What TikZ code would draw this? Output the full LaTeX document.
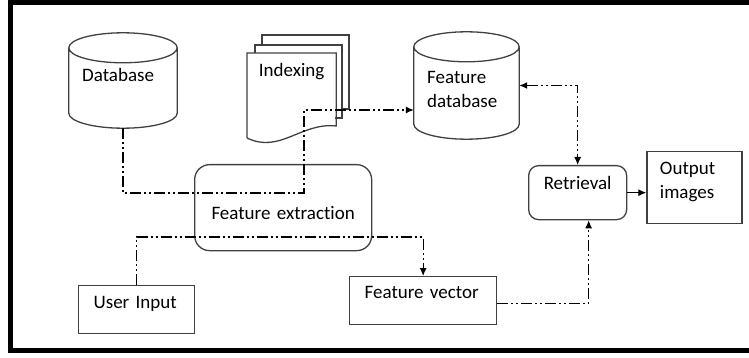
\documentclass[tikz,border=0pt]{standalone}
\usepackage{fontspec}
\setmainfont{Carlito}[Ligatures=NoCommon, WordSpace=0.6]
\usetikzlibrary{arrows.meta,positioning,calc}

\begin{document}
\begin{tikzpicture}[
  x=1pt, y=-1pt,
  font=\fontsize{19}{24}\selectfont,
  box/.style={draw=black!75, line width=1.3pt, inner ysep=0pt, anchor=north west, align=left},
  rbox/.style={box, align=center, inner xsep=0pt},
  store/.style={inner sep=0pt},
  doc/.style={draw=black!75, line width=1.3pt},
  txt/.style={anchor=base west, inner sep=0pt},
  flow/.style={line width=1.1pt, dash pattern=on 11pt off 3pt on 2pt off 3pt on 2pt off 3pt},
  arr/.style={-{Latex[length=8pt,width=7pt]}},
  both/.style={{Latex[length=8pt,width=7pt]}-{Latex[length=8pt,width=7pt]}}
]
\useasboundingbox (0,0) rectangle (749,358);

% stores
\node[store, minimum width=108pt, minimum height=95pt] (db) at (123,80.5) {};
\node[txt] (dbtxt) at (82,82) {Database};
\node[store, minimum width=105pt, minimum height=107pt] (fdb) at (466.5,85.5) {};
\node[txt, text width=80pt, align=left] (fdbtxt) at (427,84) {Feature\\database};
\foreach \s in {db,fdb} {
  \draw[doc] let \p1=($(\s.north east)-(\s.north west)$) in
    ($(\s.north west)+(0,15)$) -- ($(\s.south west)+(0,-15)$)
    arc[start angle=180, end angle=360, x radius=0.5*\x1, y radius=15pt]
    -- ($(\s.north east)+(0,15)$)
    ($(\s.north west)+(0,15)$) arc[start angle=180, end angle=-180, x radius=0.5*\x1, y radius=15pt];
}

% indexing documents
\node[box, draw=none, text width=88pt, inner xsep=0pt, align=center, text height=23pt, text depth=64pt] (idx) at (247,53) {Indexing};
\draw[doc] ($(idx.north west)+(15,-8)$) -- ++(0,-10) -- ++(87,0) -- ++(0,74) -- ++(-7,0);
\draw[doc] ($(idx.north west)+(8,0)$) -- ++(0,-8) -- ++(87,0) -- ++(0,73) -- ++(-7,0);
\draw[doc] ($(idx.north west)+(0,85)$) -- (idx.north west) -- (idx.north east) -- ++(0,73)
  .. controls +(-35,-4) and +(33,16) .. ($(idx.north west)+(0,85)$);

% boxes
\node[rbox, rounded corners=15pt, text width=177pt, text height=55pt, text depth=31pt] (fext) at (194,164) {Feature extraction};
\node[box, inner xsep=15pt, text width=86pt, text height=23pt, text depth=25pt] (usr) at (78,285) {User Input};
\node[box, inner xsep=15pt, text width=117pt, text height=22pt, text depth=26pt] (fvec) at (349,276) {Feature vector};
\node[rbox, rounded corners=10pt, text width=98pt, text height=24pt, text depth=30pt] (retr) at (528,165) {Retrieval};
\node[box, inner xsep=13pt, text width=69pt, text height=23pt, text depth=49pt, right=19pt of retr, yshift=5pt] (out) {Output\\images};

% connectors
\coordinate (bend) at (304,193);
\draw[flow, arr] (db.south) |- (bend) |- ([yshift=-24.5pt]fdb.west);
\draw[flow, both] (fdb.east) -| (retr.north);
\draw[flow, arr] (usr.north) -- ++(0,-48) -| (fvec.north);
\draw[flow, arr] ([yshift=-3pt]fvec.east) -| ([xshift=11pt]retr.south);
\draw[line width=1.2pt, arr] (retr.east) -- (retr.east -| out.west);

% frame
\draw[line width=4.5pt] (10.5,2.5) rectangle (753,350.5);
\end{tikzpicture}
\end{document}
